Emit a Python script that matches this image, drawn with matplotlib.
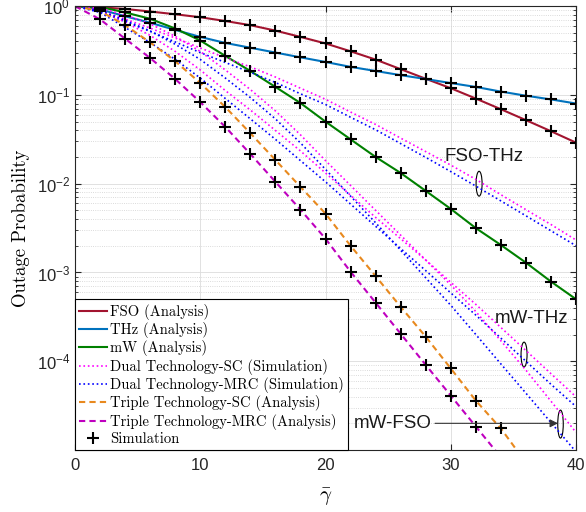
import matplotlib
matplotlib.use("Agg")
import matplotlib.pyplot as plt
from matplotlib.patches import Ellipse
import numpy as np

# ---- data ----
snr = np.arange(0, 41, 2)

fso = [1.0, 0.97, 0.93, 0.87, 0.81, 0.75, 0.68, 0.61, 0.53, 0.45, 0.38,
       0.31, 0.25, 0.195, 0.152, 0.119, 0.091, 0.069, 0.052, 0.039, 0.029]
thz = [1.0, 0.92, 0.77, 0.65, 0.54, 0.45, 0.385, 0.34, 0.30, 0.265, 0.235,
       0.207, 0.186, 0.167, 0.151, 0.136, 0.123, 0.109, 0.098, 0.089, 0.080]
mw = [1.0, 0.98, 0.85, 0.72, 0.56, 0.41, 0.275, 0.186, 0.123, 0.081, 0.050,
      0.0316, 0.020, 0.0132, 0.0083, 0.0052, 0.00316, 0.00204, 0.00129, 0.00079, 0.0005]

fso_thz_sc = [1.0, 0.892, 0.716, 0.566, 0.437, 0.338, 0.262, 0.207, 0.159, 0.119, 0.0893,
              0.0642, 0.0465, 0.0326, 0.0230, 0.0162, 0.0112, 0.00752, 0.0051, 0.00347, 0.00232]
fso_thz_mrc = [1.0, 0.86, 0.67, 0.52, 0.395, 0.30, 0.232, 0.180, 0.138, 0.103, 0.078,
               0.0560, 0.0405, 0.0283, 0.0198, 0.0137, 0.0094, 0.0064, 0.00435, 0.00295, 0.0020]
mw_thz_sc = [1.0, 0.902, 0.661, 0.468, 0.309, 0.191, 0.112, 0.0676, 0.0398, 0.0234, 0.0132,
             0.00741, 0.00417, 0.0024, 0.00138, 7.76e-4, 4.37e-4, 2.40e-4, 1.32e-4, 7.24e-5, 3.98e-5]
mw_thz_mrc = [1.0, 0.851, 0.575, 0.389, 0.251, 0.155, 0.0912, 0.0537, 0.0316, 0.0182, 0.0105,
              0.00589, 0.00331, 0.00186, 0.00105, 5.89e-4, 3.31e-4, 1.82e-4, 1.0e-4, 5.50e-5, 3.09e-5]
mw_fso_sc = [1.0, 0.951, 0.794, 0.631, 0.457, 0.309, 0.191, 0.115, 0.0661, 0.0355, 0.0182,
             0.00955, 0.00501, 0.00263, 0.00138, 7.24e-4, 3.63e-4, 1.70e-4, 7.94e-5, 3.55e-5, 1.58e-5]
mw_fso_mrc = [1.0, 0.891, 0.692, 0.525, 0.372, 0.251, 0.155, 0.0933, 0.0537, 0.0288, 0.0145,
              0.00724, 0.00363, 0.00178, 8.71e-4, 4.27e-4, 2.0e-4, 9.33e-5, 4.37e-5, 2.04e-5, 9.55e-6]

triple_sc = [1.0, 0.88, 0.61, 0.39, 0.24, 0.136, 0.073, 0.037, 0.0185, 0.0092, 0.0046,
             0.0020, 0.00091, 0.00041, 0.000189, 8.3e-5, 3.6e-5, 1.75e-5, 7.2e-6]
triple_mrc = [1.0, 0.71, 0.43, 0.26, 0.151, 0.083, 0.0436, 0.0216, 0.0105, 0.0051, 0.0024,
              0.00102, 0.000457, 0.000204, 9.1e-5, 4.1e-5, 1.84e-5, 8.3e-6]

# ---- fonts ----
plt.rcParams['font.family'] = 'Liberation Sans'
plt.rcParams['mathtext.fontset'] = 'custom'
plt.rcParams['mathtext.rm'] = 'Liberation Sans'
plt.rcParams['mathtext.it'] = 'Liberation Sans:italic'

fig = plt.figure(figsize=(5.86, 5.12), dpi=100)
ax = fig.add_axes([0.128, 0.121, 0.855, 0.867])

# ---- analysis curves ----
ax.plot(snr, fso, color='#A2142F', lw=1.5, label='FSO (Analysis)')
ax.plot(snr, thz, color='#0072BD', lw=1.5, label='THz (Analysis)')
ax.plot(snr, mw, color='#008000', lw=1.5, label='mW (Analysis)')

# ---- dual technology (simulation) ----
ax.plot(snr, fso_thz_sc, color='#FF00FF', ls=':', lw=1.2, label='Dual Technology-SC (Simulation)')
ax.plot(snr, fso_thz_mrc, color='#0000FF', ls=':', lw=1.2, label='Dual Technology-MRC (Simulation)')
ax.plot(snr, mw_thz_sc, color='#FF00FF', ls=':', lw=1.2)
ax.plot(snr, mw_thz_mrc, color='#0000FF', ls=':', lw=1.2)
ax.plot(snr, mw_fso_sc, color='#FF00FF', ls=':', lw=1.2)
ax.plot(snr, mw_fso_mrc, color='#0000FF', ls=':', lw=1.2)

# ---- triple technology ----
ax.plot(snr[:len(triple_sc)], triple_sc, color='#E8891E', ls=(0, (3, 2)), lw=1.5,
        label='Triple Technology-SC (Analysis)')
ax.plot(snr[:len(triple_mrc)], triple_mrc, color='#BF00BF', ls=(0, (3, 2)), lw=1.5,
        label='Triple Technology-MRC (Analysis)')

# ---- simulation markers ----
mk = dict(ls='none', marker='+', color='black', ms=9, mew=1.5)
ax.plot(snr, fso, label='Simulation', **mk)
ax.plot(snr, thz, **mk)
ax.plot(snr, mw, **mk)
ax.plot(snr[:len(triple_sc)], triple_sc, **mk)
ax.plot(snr[:len(triple_mrc)], triple_mrc, **mk)

# ---- axes ----
ax.set_yscale('log')
ax.set_xlim(0, 40)
ax.set_ylim(1e-5, 1)
ax.set_xticks([0, 10, 20, 30, 40])
ax.set_yticks([1e-4, 1e-3, 1e-2, 1e-1, 1])
ax.tick_params(which='both', direction='in', top=True, right=True,
               labelsize=12, labelcolor='#262626', color='#262626')
ax.tick_params(which='major', length=4)
ax.tick_params(axis='x', pad=6)
ax.tick_params(which='minor', length=2.5)
ax.xaxis.set_minor_locator(matplotlib.ticker.NullLocator())
ax.grid(which='major', color='#DCDCDC', lw=0.6)
ax.grid(which='minor', axis='y', color='#CFCFCF', ls=':', lw=0.6)
ax.set_axisbelow(True)
for s in ax.spines.values():
    s.set_color('#262626')
    s.set_linewidth(0.8)

ax.set_ylabel('Outage Probability', fontfamily='cmr10', fontsize=13.5)
ax.yaxis.set_label_coords(-0.09, 0.5)
ax.set_xlabel(r'$\bar{\gamma}$', fontsize=15, math_fontfamily='cm')
ax.xaxis.set_label_coords(0.5, -0.082)
ax.xaxis.label.set_va('top')

# ---- legend ----
leg = ax.legend(loc='lower left', bbox_to_anchor=(0, 0), borderaxespad=0,
                fancybox=False, edgecolor='black', framealpha=1,
                prop={'family': 'cmr10', 'size': 10.5},
                handlelength=1.9, handletextpad=0.2, labelspacing=0.16, borderpad=0.3)
leg.get_frame().set_linewidth(0.8)

# ---- annotations ----
ax.text(32.65, 0.020, 'FSO-THz', ha='center', va='center', fontsize=13.5, color='#1a1a1a')
ax.text(36.46, 3.07e-4, 'mW-THz', ha='center', va='center', fontsize=13.5, color='#1a1a1a')
ax.text(25.39, 2.0e-5, 'mW-FSO', ha='center', va='center', fontsize=13.5, color='#1a1a1a')
ax.annotate('', xy=(38.56, 2.0e-5), xytext=(28.74, 2.0e-5),
            arrowprops=dict(arrowstyle='-|>', color='#333333', lw=0.8,
                            mutation_scale=12, shrinkA=0, shrinkB=0))


def ring(x, y, w, h):
    cx, cy = ax.transAxes.inverted().transform(ax.transData.transform((x, y)))
    ax.add_patch(Ellipse((cx, cy), w, h, transform=ax.transAxes,
                         fill=False, ec='black', lw=0.8))


ring(32.26, 0.010, 0.012, 0.056)
ring(35.85, 1.19e-4, 0.012, 0.056)
ring(38.76, 1.96e-5, 0.011, 0.063)

fig.savefig('out.png', dpi=100)
